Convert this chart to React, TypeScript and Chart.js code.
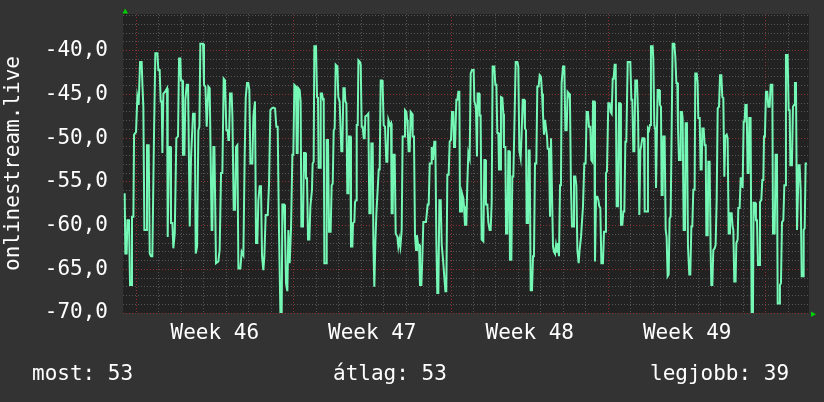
import React, { useEffect, useRef } from 'react';
import { Chart, registerables } from 'chart.js';

Chart.register(...registerables);

// Time in hours since the start of week 46, value of the series
const hours: number[] = [
  -12.1, -11.4, -10.0, -9.2, -7.5, -6.4, -5.0, -4.3, -2.8, -2.1, 0.0, 1.4, 2.8, 4.3, 6.0, 6.8, 7.8, 8.9, 10.7, 11.7,
  13.5, 14.6, 16.0, 17.4, 19.2, 20.6, 22.8, 23.8, 25.2, 26.3, 27.4, 28.1, 29.2, 31.0, 33.1, 33.8, 34.9, 36.6, 37.3, 38.8,
  39.8, 41.3, 43.0, 44.8, 45.9, 47.3, 48.0, 49.4, 50.1, 51.6, 52.6, 54.1, 55.5, 57.3, 58.7, 60.8, 62.6, 63.7, 65.1, 66.5,
  67.6, 68.6, 71.5, 72.5, 74.0, 75.4,
  77.2, 78.6, 80.7, 81.4, 82.5, 83.6, 85.3, 87.8, 89.2, 90.7, 92.1, 93.5, 94.9, 96.4, 97.8, 98.5, 99.2, 100.3, 102.0, 102.8,
  104.2, 105.6, 106.7, 108.1, 109.2, 111.3, 112.7, 114.5, 115.9, 117.0, 118.4, 119.8, 120.9, 122.0, 124.1, 125.2, 126.9, 128.0, 129.4, 130.5,
  131.9, 133.3, 134.4, 135.8, 136.9, 138.3, 140.5, 141.9, 143.3, 144.7, 146.5, 148.3, 149.7, 151.1, 152.5, 154.0, 155.4, 156.1, 157.9, 158.9,
  160.0, 161.4, 162.5, 163.9, 165.3, 166.8, 167.8, 168.9,
  170.7, 171.4, 172.4, 173.2, 174.6, 175.6, 176.4, 178.1, 179.2, 180.6, 181.3, 182.4, 183.5, 184.9, 186.0, 187.7, 188.4, 189.5, 190.2, 192.0,
  193.1, 194.1, 194.8, 196.3, 197.0, 198.4, 199.5, 200.2, 200.9, 202.7, 203.4, 204.8, 205.9, 207.6, 208.7, 209.8, 210.9, 211.9, 213.0, 214.8,
  215.8, 217.2, 219.0, 220.1, 221.2, 222.6, 223.3, 224.4, 225.4, 226.5, 227.2, 228.6, 229.3, 230.8, 231.5, 232.9, 233.6, 234.7, 235.4, 236.5,
  237.2, 238.9, 239.7, 240.7, 241.8, 242.9, 243.9, 244.6, 246.4, 247.8, 248.9, 250.3, 251.0, 252.5, 253.2, 254.2, 255.3, 256.4, 258.9, 259.9,
  261.0, 262.4,
  263.1, 264.2, 265.6, 267.0, 268.1, 269.2, 270.9, 272.0, 272.7, 273.8, 274.5, 275.9, 277.0, 278.8, 279.8, 280.9, 282.0, 283.4, 284.4, 285.9,
  286.9, 288.4, 289.1, 289.8, 290.8, 291.9, 293.0, 294.4, 295.1, 296.5, 297.6, 298.7, 299.7, 300.8, 301.9, 302.9, 304.4, 305.4, 306.5, 309.3,
  311.1, 312.2, 313.3, 314.7, 315.4, 316.8, 318.2, 319.3, 320.4, 321.4, 322.5, 323.6, 325.0, 326.1, 327.5, 328.5, 330.0, 331.0, 332.1, 333.5,
  334.6, 336.0, 337.1, 338.5, 339.2, 340.3, 341.7, 342.8, 343.8, 344.9, 345.6, 347.0, 347.7, 349.2, 349.9, 350.9, 352.4, 353.4, 354.5,
  355.9, 357.0, 358.4, 360.2, 360.9, 362.0, 362.7, 363.7, 364.4, 365.9, 366.6, 367.6, 368.7, 370.5, 371.6, 372.6, 373.3, 374.8, 375.8, 377.2,
  378.3, 379.4, 380.4, 382.2, 383.3, 384.4, 385.4, 386.5, 387.2, 388.6, 389.3, 390.8, 391.8, 392.5, 394.0, 394.7, 396.1, 397.2, 398.2, 398.9,
  400.4, 401.4, 402.5, 403.9, 405.0, 406.8, 407.8, 408.9, 410.3, 411.4, 412.5, 413.9, 414.9, 416.0, 416.7, 418.1, 418.9, 419.9, 421.0, 422.4,
  423.5, 424.5, 425.6, 427.0, 428.1, 429.5, 430.6, 432.0, 433.1, 434.1, 435.2, 436.3, 437.3, 438.4, 439.1, 440.5, 441.6, 442.7, 443.7, 444.8,
  445.9, 446.9,
  448.0, 449.1, 450.1, 451.2, 452.3, 453.3, 454.0, 455.5, 456.9, 458.0, 459.4, 460.4, 461.9, 462.9, 464.0, 465.1, 466.5, 467.2, 468.6, 469.7,
  470.8, 472.2, 473.2, 474.7, 475.7, 476.8, 478.2, 479.6, 480.7, 482.1, 483.2, 484.6, 485.7, 486.8, 487.5, 488.9, 489.6, 490.7, 492.1, 493.2,
  494.2, 495.3, 496.4, 498.1, 499.2, 500.3, 501.3, 502.4, 503.8, 505.3, 506.3, 507.4, 508.5, 509.5, 510.6, 511.7, 512.7, 514.1, 515.2, 516.3,
  517.3, 518.8, 519.8, 520.9, 522.0, 523.0, 524.5, 527.3, 528.4, 529.4, 530.5, 531.6, 532.6, 534.4, 535.5, 536.2, 536.9, 538.0, 539.0, 540.1,
  540.8, 541.9, 542.6, 545.1, 546.1, 547.2, 548.3, 549.3, 551.1, 551.8, 552.9, 554.0, 554.7, 555.7, 556.4, 557.9, 558.9, 560.0, 560.7, 561.8,
  562.5, 563.9, 565.0, 566.0, 567.1, 568.2, 569.2, 570.3, 571.4, 572.4, 574.2, 575.3, 576.4, 577.4, 578.1, 579.2, 580.3, 581.0, 582.4, 583.1,
  584.2, 585.6, 586.3, 587.7, 588.8, 590.2, 591.3, 592.4, 593.4, 594.5, 595.9, 596.6, 598.1, 599.1, 599.8, 601.3, 602.3, 603.4, 604.1, 605.5,
  606.6, 607.7, 608.4, 609.8, 610.5, 611.9, 613.0, 613.7, 614.8, 615.8, 617.3, 618.3, 619.4, 620.5, 621.9, 623.0, 624.4, 625.4, 626.5, 627.6,
  628.6, 630.1, 631.1, 632.2, 633.6,
  634.0, 635.4, 636.4, 637.2, 638.2, 639.6, 640.4, 641.8, 642.5, 643.9, 645.0, 646.4, 647.1, 648.2, 649.2, 650.0, 651.4, 652.4, 653.5, 654.2,
  655.6, 656.7, 658.1, 658.8, 660.3, 661.3, 662.4, 663.5, 664.9, 665.6, 667.0, 668.1, 669.2, 669.9, 670.9, 672.0, 673.4, 674.5, 675.9, 677.0,
  678.8, 679.5, 681.3, 682.3, 683.7, 684.5, 685.9, 686.9, 688.0, 689.1, 690.5, 691.6, 692.3, 693.3, 695.1, 696.2, 697.3, 698.0, 699.7, 700.8,
  701.9, 702.9, 704.0, 705.1, 706.1, 706.9, 707.9, 709.0, 710.1, 711.5, 712.2, 713.3, 714.3, 715.7,
];

const signal: number[] = [
  -56.3, -63.2, -63.2, -59.4, -59.4, -66.8, -66.8, -59.0, -59.0, -49.6, -49.3, -45.3, -46.2, -41.3, -41.3, -43.9, -46.4, -60.5, -60.5, -50.8,
  -50.8, -63.2, -63.5, -63.5, -49.4, -40.3, -40.3, -42.2, -42.2, -45.8, -45.8, -51.7, -44.9, -44.7, -44.3, -61.3, -51.0, -51.0, -59.7, -59.7,
  -62.6, -60.9, -50.0, -49.8, -40.9, -40.9, -43.4, -43.4, -51.9, -51.9, -45.6, -43.9, -43.9, -60.1, -52.1, -47.2, -47.2, -63.2, -62.4, -49.1,
  -48.7, -39.2, -39.2, -43.9, -44.1, -48.7,
  -44.1, -44.3, -60.5, -60.5, -51.0, -51.0, -64.3, -64.1, -62.8, -54.0, -54.0, -43.2, -43.4, -49.1, -49.1, -50.2, -50.2, -44.9, -44.9, -47.5,
  -58.2, -58.2, -51.0, -50.8, -64.9, -64.9, -63.0, -63.4, -52.1, -45.4, -43.7, -43.7, -44.5, -52.9, -52.9, -47.5, -45.8, -62.0, -62.0, -57.1,
  -55.5, -55.5, -63.5, -65.1, -63.5, -58.8, -58.8, -55.2, -46.8, -46.6, -46.5, -46.6, -48.7, -48.7, -60.5, -70.0, -70.0, -57.6, -57.6, -60.5,
  -66.6, -67.5, -60.5, -64.3, -60.5, -51.9, -51.9, -43.9,
  -44.1, -51.7, -51.7, -44.3, -44.5, -45.8, -60.1, -60.1, -51.7, -51.7, -54.6, -54.6, -61.6, -61.6, -57.8, -55.9, -52.9, -52.7, -39.5, -39.5,
  -45.3, -45.4, -53.4, -53.4, -44.9, -44.9, -45.6, -45.4, -64.3, -64.3, -50.2, -50.2, -60.7, -60.7, -55.4, -55.2, -49.1, -48.9, -41.6, -41.8,
  -45.3, -45.8, -51.5, -51.5, -44.3, -44.3, -45.8, -46.0, -56.3, -56.3, -49.8, -49.8, -62.4, -62.4, -59.7, -59.6, -57.3, -57.1, -48.5, -48.5,
  -41.1, -41.3, -41.6, -48.7, -48.7, -50.0, -50.0, -47.5, -47.4, -47.2, -58.6, -58.6, -50.6, -50.6, -62.2, -67.0, -62.0, -58.6, -53.6, -53.6,
  -43.4, -43.4,
  -44.1, -48.5, -48.7, -52.7, -52.7, -47.9, -48.5, -48.3, -58.6, -58.6, -51.9, -51.9, -60.9, -61.3, -62.4, -61.6, -62.4, -60.5, -49.8, -49.8,
  -46.8, -47.0, -47.9, -48.9, -51.5, -51.5, -47.0, -47.2, -49.8, -49.8, -61.1, -62.8, -61.1, -62.2, -62.2, -66.8, -66.8, -63.7, -59.6, -59.6,
  -57.6, -57.6, -52.9, -52.9, -51.0, -52.5, -50.4, -50.4, -62.0, -67.7, -67.7, -57.1, -57.1, -62.2, -63.9, -63.9, -67.5, -67.5, -54.2, -54.2,
  -50.4, -50.2, -47.0, -47.0, -51.0, -51.0, -45.6, -45.6, -44.7, -44.7, -58.4, -58.4, -56.3, -56.9, -57.8, -59.9, -59.9, -55.2, -51.7,
  -52.3, -42.6, -42.2, -42.2, -45.8, -46.2, -46.8, -52.1, -44.9, -44.9, -47.4, -47.4, -61.6, -61.8, -52.5, -52.5, -57.6, -57.6, -59.6, -60.5,
  -60.5, -57.4, -41.8, -41.8, -43.9, -43.9, -49.4, -49.4, -53.6, -53.6, -45.3, -45.4, -47.2, -51.0, -51.0, -60.9, -60.9, -51.5, -51.5, -63.9,
  -63.9, -54.4, -54.4, -47.2, -41.3, -41.3, -41.8, -51.4, -52.3, -49.3, -45.6, -45.6, -48.9, -49.1, -59.7, -59.7, -51.4, -51.4, -67.4, -67.4,
  -63.5, -63.4, -52.9, -52.9, -44.1, -44.1, -42.8, -43.0, -44.9, -47.2, -49.6, -47.9, -47.9, -49.8, -51.2, -51.2, -59.0, -50.0, -50.0, -62.4,
  -63.0, -63.2,
  -62.2, -63.0, -62.0, -63.5, -55.4, -55.2, -43.7, -41.8, -41.8, -49.1, -49.1, -44.7, -44.9, -45.6, -55.7, -60.1, -60.1, -54.4, -54.4, -55.4,
  -62.8, -64.3, -62.8, -61.3, -61.3, -57.8, -52.9, -52.9, -47.0, -47.0, -48.7, -48.7, -52.5, -52.7, -45.8, -45.8, -64.1, -56.7, -56.7, -57.1,
  -57.8, -58.0, -64.3, -64.3, -60.7, -60.7, -54.0, -53.8, -46.0, -46.0, -47.0, -47.2, -43.2, -43.2, -41.6, -41.6, -57.8, -57.8, -46.0, -46.0,
  -59.9, -59.9, -58.4, -58.4, -50.4, -50.4, -41.3, -41.3, -45.6, -45.6, -51.5, -51.5, -43.4, -43.4, -47.2, -47.2, -58.8, -51.4, -50.8, -50.0,
  -50.0, -50.0, -58.4, -58.4, -48.9, -49.1, -48.5, -39.5, -39.5, -40.9, -48.5, -49.1, -55.7, -55.7, -44.5, -44.5, -46.2, -46.4, -56.5, -56.5,
  -49.8, -49.8, -60.5, -61.3, -65.8, -65.6, -59.2, -59.0, -48.9, -39.2, -39.2, -40.7, -43.7, -43.7, -48.7, -52.5, -52.5, -47.0, -47.0, -47.7,
  -60.5, -60.5, -48.3, -48.3, -62.4, -65.6, -65.6, -60.1, -60.1, -55.9, -55.9, -42.6, -42.6, -43.7, -47.7, -47.7, -53.6, -53.6, -48.9, -48.9,
  -50.8, -50.8, -61.1, -61.1, -52.7, -52.7, -63.0, -66.8, -66.8, -62.8, -62.6, -62.2, -57.1, -46.6, -46.4, -42.8, -42.8, -45.3, -45.4, -54.4,
  -49.8, -49.6, -50.0, -60.9, -60.9,
  -58.6, -58.6, -60.1, -60.5, -66.4, -66.4, -62.0, -61.6, -58.0, -58.0, -54.6, -54.6, -55.7, -48.1, -48.1, -46.2, -46.2, -54.0, -54.0, -47.7,
  -47.7, -70.0, -70.0, -57.4, -57.4, -59.4, -59.4, -64.5, -64.5, -57.3, -57.1, -54.8, -54.8, -49.8, -49.6, -44.7, -44.7, -46.4, -46.4, -43.9,
  -43.9, -60.9, -60.9, -51.9, -51.9, -68.9, -68.9, -66.8, -66.6, -59.6, -59.4, -55.4, -55.4, -40.5, -40.5, -46.8, -46.8, -53.1, -53.1, -46.4,
  -46.2, -43.7, -43.7, -60.5, -60.5, -53.1, -53.1, -55.9, -65.8, -65.8, -60.5, -60.3, -52.9, -52.9,
];

const xMinHours = -13.9;
const xMaxHours = 717.9;
const yMin = -70;
const yMax = -35.8;

const dayTickHours: number[] = [
  0, 24, 48, 72, 96, 120, 144, 168, 192, 216, 240, 264, 288, 312, 336, 360, 384, 408, 432, 456, 480, 504, 528,
  552, 576, 600, 624, 648, 672, 696,
];
const weekMidHours: number[] = [84, 252, 420, 588];
const weekLabels: string[] = ['Week 46', 'Week 47', 'Week 48', 'Week 49'];

const yTickValues: number[] = [
  -70, -69, -68, -67, -66, -65, -64, -63, -62, -61, -60, -59, -58, -57, -56, -55, -54, -53, -52, -51, -50,
  -49, -48, -47, -46, -45, -44, -43, -42, -41, -40, -39, -38, -37, -36,
];

const axisTitle = 'onlinestream.live';
const footerTexts: string[] = ['most: 53', 'átlag: 53', 'legjobb: 39'];

const FONT = '"DejaVu Sans Mono", monospace';
const LINE_COLOR = '#75f8b5';
const OUTER_BG = '#333333';
const PLOT_BG = '#222222';
const GRID_MINOR = '#555555';
const GRID_MAJOR = '#8c3030';
const ARROW = '#00d000';

export default function App() {
  const ref = useRef<HTMLCanvasElement | null>(null);

  useEffect(() => {
    document.body.style.margin = '0';
    const canvas = ref.current;
    if (!canvas) return;

    const bgPlugin = {
      id: 'bgPlugin',
      beforeDraw(chart: any) {
        const { ctx, chartArea } = chart;
        ctx.save();
        ctx.fillStyle = OUTER_BG;
        ctx.fillRect(0, 0, chart.width, chart.height);
        ctx.fillStyle = PLOT_BG;
        ctx.fillRect(chartArea.left, chartArea.top, chartArea.right - chartArea.left, chartArea.bottom - chartArea.top);
        ctx.restore();
      },
      afterDraw(chart: any) {
        const { ctx, chartArea } = chart;
        ctx.save();
        // arrows
        ctx.fillStyle = ARROW;
        ctx.beginPath();
        ctx.moveTo(chartArea.left - 0.5, chartArea.top - 0.5);
        ctx.lineTo(chartArea.left + 5, chartArea.top - 0.5);
        ctx.lineTo(chartArea.left + 2.25, chartArea.top - 5.5);
        ctx.closePath();
        ctx.fill();
        ctx.beginPath();
        ctx.moveTo(chartArea.right + 2, chartArea.bottom - 1.5);
        ctx.lineTo(chartArea.right + 2, chartArea.bottom + 4);
        ctx.lineTo(chartArea.right + 7, chartArea.bottom + 1.25);
        ctx.closePath();
        ctx.fill();
        // footer
        ctx.fillStyle = '#ffffff';
        ctx.font = `21px ${FONT}`;
        ctx.textBaseline = 'middle';
        ctx.textAlign = 'left';
        ctx.fillText(footerTexts[0], 32, 375);
        ctx.fillText(footerTexts[1], 333, 375);
        ctx.fillText(footerTexts[2], 650, 375);
        ctx.restore();
      },
    };

    const chart = new Chart(canvas, {
      type: 'line',
      data: {
        datasets: [
          {
            data: hours.map((h, i) => ({ x: h, y: signal[i] })),
            borderColor: LINE_COLOR,
            borderWidth: 2,
            pointRadius: 0,
            tension: 0,
            fill: false,
          },
        ],
      },
      options: {
        animation: false,
        responsive: false,
        devicePixelRatio: 1,
        layout: { padding: { left: 0, top: 14, right: 15, bottom: 0 } },
        plugins: {
          legend: { display: false },
          tooltip: { enabled: false },
        },
        scales: {
          x: {
            type: 'linear',
            min: xMinHours,
            max: xMaxHours,
            afterBuildTicks: (s: any) => {
              s.ticks = [...dayTickHours, ...weekMidHours].sort((a, b) => a - b).map((v) => ({ value: v }));
            },
            afterFit: (s: any) => {
              s.height = 89;
              s.paddingLeft = 0;
              s.paddingRight = 0;
            },
            grid: {
              drawTicks: false,
              lineWidth: 1,
              color: (c: any) => {
                const v = c.tick ? c.tick.value : 0;
                if (weekMidHours.includes(v)) return 'rgba(0,0,0,0)';
                if (v % 168 === 0) return GRID_MAJOR;
                return GRID_MINOR;
              },
            },
            border: { display: false, dash: [1, 2] },
            ticks: {
              autoSkip: false,
              maxRotation: 0,
              minRotation: 0,
              padding: 8,
              color: '#ffffff',
              font: { family: FONT, size: 21 },
              callback: (value: any) => {
                const idx = weekMidHours.indexOf(Number(value));
                return idx >= 0 ? weekLabels[idx] : '';
              },
            },
          },
          y: {
            type: 'linear',
            min: yMin,
            max: yMax,
            afterBuildTicks: (s: any) => {
              s.ticks = yTickValues.map((v) => ({ value: v }));
            },
            afterFit: (s: any) => {
              s.width = 123;
              s.paddingTop = 0;
              s.paddingBottom = 0;
            },
            grid: {
              drawTicks: false,
              lineWidth: 1,
              color: (c: any) => {
                const v = c.tick ? c.tick.value : 0;
                return v % 5 === 0 ? GRID_MAJOR : GRID_MINOR;
              },
            },
            border: { display: false, dash: [1, 2] },
            title: {
              display: true,
              text: axisTitle,
              color: '#ffffff',
              font: { family: FONT, size: 21 },
              padding: { top: 1, bottom: 0 },
            },
            ticks: {
              autoSkip: false,
              padding: 15,
              color: '#ffffff',
              font: { family: FONT, size: 21 },
              callback: (value: any) => {
                const v = Number(value);
                return v % 5 === 0 ? v.toFixed(1).replace('.', ',') : '';
              },
            },
          },
        },
      },
      plugins: [bgPlugin],
    });

    return () => chart.destroy();
  }, []);

  return (
    <div style={{ width: 824, height: 402 }}>
      <canvas ref={ref} width={824} height={402} style={{ display: 'block', width: 824, height: 402 }} />
    </div>
  );
}
